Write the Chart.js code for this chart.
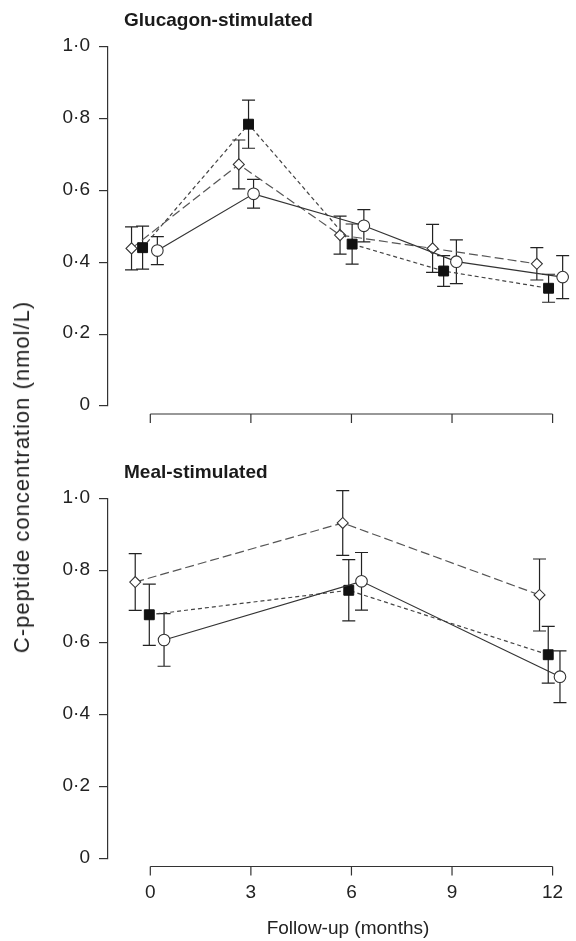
<!DOCTYPE html>
<html>
<head>
<meta charset="utf-8">
<script src="https://cdn.jsdelivr.net/npm/chart.js@4.4.1/dist/chart.umd.min.js"></script>
<style>
  html, body { margin: 0; padding: 0; background: #fff; overflow: hidden; }
  #wrap { position: relative; width: 576px; height: 941px; overflow: hidden; }
  #glucagonChart { position: absolute; left: 0; top: 0; }
  #mealChart { position: absolute; left: 0; top: 440px; }
  #yTitle {
    position: absolute; left: 22px; top: 477px;
    transform: translate(-50%, -50%) rotate(-90deg);
    white-space: nowrap; color: #222; letter-spacing: 1px;
    font: 22px "Liberation Sans", Arial, sans-serif;
  }
</style>
</head>
<body>
<div id="wrap">
  <canvas id="glucagonChart" width="596" height="440"></canvas>
  <canvas id="mealChart" width="596" height="501"></canvas>
  <div id="yTitle">C-peptide concentration (nmol/L)</div>
</div>
<script>
const monthTicks = [0, 3, 6, 9, 12];
const yTicks = [0, 0.2, 0.4, 0.6, 0.8, 1.0];
const panelTitles = ['Glucagon-stimulated', 'Meal-stimulated'];
const xTitle = 'Follow-up (months)';

// Glucagon-stimulated: mean and SEM per group; x is the visit month nudged so groups sit side by side
const glucDiamondX = [-0.56, 2.64, 5.66, 8.42, 11.53];
const glucDiamondMean = [0.439, 0.673, 0.476, 0.439, 0.396];
const glucDiamondSem = [0.060, 0.068, 0.053, 0.067, 0.045];

const glucSquareX = [-0.23, 2.93, 6.02, 8.75, 11.88];
const glucSquareMean = [0.441, 0.785, 0.451, 0.376, 0.328];
const glucSquareSem = [0.060, 0.067, 0.056, 0.043, 0.039];

const glucCircleX = [0.21, 3.08, 6.37, 9.13, 12.30];
const glucCircleMean = [0.433, 0.591, 0.502, 0.402, 0.359];
const glucCircleSem = [0.039, 0.040, 0.045, 0.061, 0.060];

// Meal-stimulated: visits at 0, 6 and 12 months
const mealDiamondX = [-0.45, 5.74, 11.61];
const mealDiamondMean = [0.768, 0.932, 0.732];
const mealDiamondSem = [0.079, 0.090, 0.100];

const mealSquareX = [-0.03, 5.92, 11.87];
const mealSquareMean = [0.677, 0.745, 0.566];
const mealSquareSem = [0.085, 0.085, 0.079];

const mealCircleX = [0.41, 6.30, 12.22];
const mealCircleMean = [0.607, 0.770, 0.505];
const mealCircleSem = [0.073, 0.080, 0.072];

// x range so that month 0 and 12 land under the floating axis ends
const xMin = -1.262, xMax = 13.056;

const FONT = '"Liberation Sans", Arial, sans-serif';
const INK = '#222';

const diamondStyle = {
  borderColor: '#555', borderWidth: 1.2, borderDash: [9, 4],
  pointStyle: 'rectRot', pointRadius: 5.5,
  pointBackgroundColor: '#fff', pointBorderColor: '#333', pointBorderWidth: 1.1
};
const squareStyle = {
  borderColor: '#444', borderWidth: 1.2, borderDash: [4, 3],
  pointStyle: 'rect', pointRadius: 7,
  pointBackgroundColor: '#111', pointBorderColor: '#111', pointBorderWidth: 1
};
const circleStyle = {
  borderColor: '#333', borderWidth: 1.2, borderDash: [],
  pointStyle: 'circle', pointRadius: 5.8,
  pointBackgroundColor: '#fff', pointBorderColor: '#333', pointBorderWidth: 1.1
};

function series(xs, means, sems, style) {
  return Object.assign({
    data: xs.map((x, i) => ({ x: x, y: means[i], sem: sems[i] })),
    fill: false, tension: 0
  }, style);
}

// mean ± SEM whiskers with caps, drawn under the markers
const errorBars = {
  id: 'errorBars',
  beforeDatasetsDraw(chart) {
    const { ctx, scales: { x, y } } = chart;
    const cap = 6.5;
    ctx.save();
    ctx.strokeStyle = INK;
    ctx.lineWidth = 1.2;
    chart.data.datasets.forEach(ds => {
      ds.data.forEach(p => {
        const px = x.getPixelForValue(p.x);
        const hi = y.getPixelForValue(p.y + p.sem);
        const lo = y.getPixelForValue(p.y - p.sem);
        ctx.beginPath();
        ctx.moveTo(px, hi); ctx.lineTo(px, lo);
        ctx.moveTo(px - cap, hi); ctx.lineTo(px + cap, hi);
        ctx.moveTo(px - cap, lo); ctx.lineTo(px + cap, lo);
        ctx.stroke();
      });
    });
    ctx.restore();
  }
};

// x axis sits a little below the plot and only spans 0-12 months
const floatingXAxis = {
  id: 'floatingXAxis',
  afterDraw(chart, args, opts) {
    const { ctx, chartArea, scales: { x } } = chart;
    const yLine = chartArea.bottom + opts.gap;
    ctx.save();
    ctx.strokeStyle = '#333';
    ctx.lineWidth = 1.2;
    ctx.beginPath();
    ctx.moveTo(x.getPixelForValue(monthTicks[0]), yLine);
    ctx.lineTo(x.getPixelForValue(monthTicks[monthTicks.length - 1]), yLine);
    monthTicks.forEach(m => {
      const px = x.getPixelForValue(m);
      ctx.moveTo(px, yLine);
      ctx.lineTo(px, yLine + opts.tick);
    });
    ctx.stroke();
    ctx.restore();
  }
};

const panelTitle = {
  id: 'panelTitle',
  afterDraw(chart, args, opts) {
    const { ctx, chartArea } = chart;
    ctx.save();
    ctx.font = 'bold 19px ' + FONT;
    ctx.fillStyle = '#1a1a1a';
    ctx.textBaseline = 'alphabetic';
    ctx.fillText(opts.text, chartArea.left + opts.dx, chartArea.top - opts.dy);
    ctx.restore();
  }
};

function panelOptions(title, showLabels, topPad, xHeight) {
  return {
    responsive: false,
    animation: false,
    layout: { padding: { top: topPad, left: 0, right: 0, bottom: 0 } },
    plugins: {
      legend: { display: false },
      tooltip: { enabled: false },
      panelTitle: { text: title, dx: 16, dy: 21 },
      floatingXAxis: { gap: 8, tick: 9 }
    },
    scales: {
      x: {
        type: 'linear', min: xMin, max: xMax,
        afterBuildTicks: s => { s.ticks = monthTicks.map(v => ({ value: v })); },
        afterFit: s => { s.height = xHeight; },
        grid: { display: false, drawTicks: false },
        border: { display: false },
        ticks: { display: showLabels, padding: 23, color: INK, font: { family: FONT, size: 19 } },
        title: {
          display: showLabels, text: xTitle, color: INK,
          font: { family: FONT, size: 19 }, padding: { top: 0, bottom: 1 }
        }
      },
      y: {
        min: 0, max: 1,
        afterBuildTicks: s => { s.ticks = yTicks.map(v => ({ value: v })); },
        afterFit: s => { s.width = 108; },
        grid: { drawOnChartArea: false, drawTicks: true, tickLength: 9, color: '#333', lineWidth: 1.2 },
        border: { display: true, color: '#333', width: 1.2 },
        ticks: {
          padding: 9, labelOffset: -1, color: INK, font: { family: FONT, size: 19 },
          callback: v => v === 0 ? '0' : v.toFixed(1).replace('.', '\u00b7')
        }
      }
    }
  };
}

new Chart(document.getElementById('glucagonChart'), {
  type: 'line',
  data: {
    datasets: [
      series(glucCircleX, glucCircleMean, glucCircleSem, circleStyle),
      series(glucSquareX, glucSquareMean, glucSquareSem, squareStyle),
      series(glucDiamondX, glucDiamondMean, glucDiamondSem, diamondStyle)
    ]
  },
  options: panelOptions(panelTitles[0], false, 47, 34),
  plugins: [errorBars, floatingXAxis, panelTitle]
});

new Chart(document.getElementById('mealChart'), {
  type: 'line',
  data: {
    datasets: [
      series(mealCircleX, mealCircleMean, mealCircleSem, circleStyle),
      series(mealSquareX, mealSquareMean, mealSquareSem, squareStyle),
      series(mealDiamondX, mealDiamondMean, mealDiamondSem, diamondStyle)
    ]
  },
  options: panelOptions(panelTitles[1], true, 58.5, 82.5),
  plugins: [errorBars, floatingXAxis, panelTitle]
});
</script>
</body>
</html>
